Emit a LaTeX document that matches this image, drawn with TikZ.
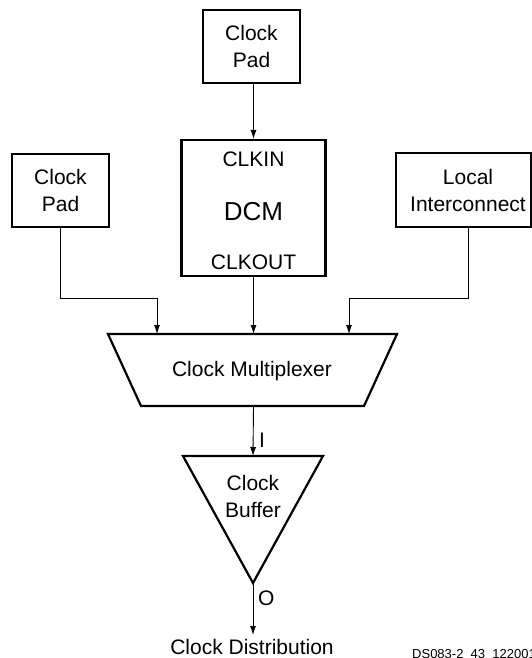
\documentclass[tikz,border=0pt]{standalone}
\usepackage{fontspec}
\setmainfont{Liberation Sans}
\usetikzlibrary{arrows.meta}
\begin{document}
\begin{tikzpicture}[x=1pt,y=-1pt,
  blk/.style={draw,line width=2.2pt,inner sep=0pt,align=center,
    font=\fontsize{21}{27}\selectfont},
  lbl/.style={inner sep=0pt,align=center,font=\fontsize{21}{27}\selectfont},
  conn/.style={line width=0.9pt,-{Latex[length=9pt,width=6pt]}},
  thick2/.style={line width=2.2pt,line join=miter}]
\useasboundingbox (0,0) rectangle (532,658);
% boxes
\node[blk,minimum width=97pt,minimum height=73pt] (top) at (251.5,46.5) {Clock\\Pad};
\node[blk,minimum width=144pt,minimum height=136pt] (dcm) at (253.5,208) {};
\node[lbl] (clkin) at (253.5,159) {CLKIN};
\node[lbl,font=\fontsize{26}{30}\selectfont] (dcmt) at (253.5,212) {DCM};
\node[lbl] (clkout) at (253.5,262) {CLKOUT};
\node[blk,minimum width=97pt,minimum height=73pt] (left) at (60.5,190.5) {Clock\\Pad};
\node[blk,minimum width=135pt,minimum height=74pt] (loc) at (463.5,190) {};
\node[lbl] (loct) at (468,190) {Local\\Interconnect};
% multiplexer
\coordinate (m1) at (108,334);
\coordinate (m2) at (397,334);
\coordinate (m3) at (364,406);
\coordinate (m4) at (141,406);
\draw[thick2] (m1) -- (m2) -- (m3) -- (m4) -- cycle;
\node[lbl] (mux) at (252,371) {Clock Multiplexer};
% buffer
\coordinate (b1) at (183,456);
\coordinate (b2) at (323,456);
\coordinate (b3) at (253,583);
\draw[thick2] (b1) -- (b2) -- (b3) -- cycle;
\node[lbl] (buf) at (253,496.5) {Clock\\Buffer};
% connectors
\coordinate (jl) at (157,298);
\coordinate (jr) at (349,298);
\draw[conn] (dcm.north |- top.south) -- (dcm.north);
\draw[conn] (left.south) |- (jl) -- (jl |- m1);
\draw[conn] (dcm.south) -- (dcm.south |- m1);
\draw[conn] (loct |- loc.south) |- (jr) -- (jr |- m1);
\draw[conn] (dcm.south |- m4) -- (b3 |- b1);
\node[lbl,anchor=west] (ilbl) at (259,440) {I};
\coordinate (dist) at (253,635);
\draw[conn] (b3) -- (dist);
\node[lbl,anchor=west] (olbl) at (258,598) {O};
\node[lbl] (distt) at (252,646.5) {Clock Distribution};
\node[inner sep=0pt,anchor=west,font=\fontsize{13}{15}\selectfont] (ds) at (412,655) {DS083-2\_43\_122001};
\end{tikzpicture}
\end{document}
